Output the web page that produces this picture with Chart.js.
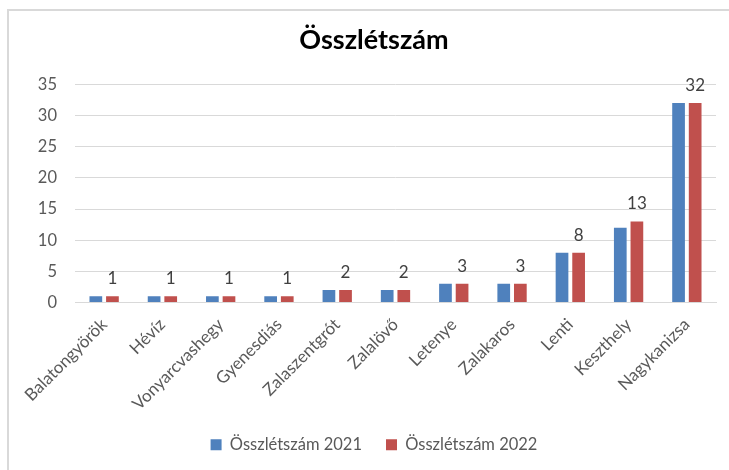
<!DOCTYPE html>
<html>
<head>
<meta charset="utf-8">
<script src="https://cdn.jsdelivr.net/npm/chart.js@4/dist/chart.umd.min.js"></script>
<style>
html,body{margin:0;padding:0;background:#fff;}
#wrap{position:absolute;left:0;top:0;width:729px;height:470px;}
</style>
</head>
<body>
<div id="wrap"><canvas id="c" width="729" height="470"></canvas></div>
<script>
const categories = ["Balatongyörök","Hévíz","Vonyarcvashegy","Gyenesdiás","Zalaszentgrót","Zalalövő","Letenye","Zalakaros","Lenti","Keszthely","Nagykanizsa"];
const series2021 = [1,1,1,1,2,2,3,3,8,12,32];
const series2022 = [1,1,1,1,2,2,3,3,8,13,32];
const seriesNames = ["Összlétszám 2021","Összlétszám 2022"];
const yTicks = [0,5,10,15,20,25,30,35];
const titleText = "Összlétszám";

const FONT = "Lato, 'Open Sans', sans-serif";

const borderPlugin = {
  id: 'outerBorder',
  beforeDraw(chart){
    const ctx = chart.ctx;
    ctx.save();
    ctx.fillStyle = '#fff';
    ctx.fillRect(0,0,chart.width,chart.height);
    ctx.strokeStyle = '#d9d9d9';
    ctx.lineWidth = 2;
    ctx.beginPath();
    ctx.moveTo(8, 470);
    ctx.lineTo(8, 10);
    ctx.lineTo(729, 10);
    ctx.stroke();
    ctx.restore();
  }
};

const labelPlugin = {
  id: 'valueLabels',
  afterDatasetsDraw(chart){
    const ctx = chart.ctx;
    const meta = chart.getDatasetMeta(1);
    ctx.save();
    ctx.font = "17px " + FONT;
    ctx.fillStyle = '#404040';
    ctx.textAlign = 'center';
    ctx.textBaseline = 'bottom';
    meta.data.forEach((bar, i) => {
      ctx.fillText(String(series2022[i]), bar.x, bar.y - 9);
    });
    ctx.restore();
  }
};

new Chart(document.getElementById('c'), {
  type: 'bar',
  data: {
    labels: categories,
    datasets: [
      { label: seriesNames[0], data: series2021, backgroundColor: '#4f81bd', borderWidth: 0,
        categoryPercentage: 0.57, barPercentage: 0.765 },
      { label: seriesNames[1], data: series2022, backgroundColor: '#c0504d', borderWidth: 0,
        categoryPercentage: 0.57, barPercentage: 0.765 }
    ]
  },
  options: {
    responsive: false,
    animation: false,
    devicePixelRatio: 1,
    layout: { padding: { left: 32, right: 13, top: 16, bottom: 7 } },
    plugins: {
      title: { display: true, text: titleText, color: '#000',
        font: { family: FONT, size: 27, weight: 'bold' }, padding: { top: 8, bottom: 28 } },
      legend: { position: 'bottom',
        labels: { color: '#595959', font: { family: FONT, size: 16.5 }, boxWidth: 11, boxHeight: 11, padding: 24 } },
      tooltip: { enabled: false }
    },
    scales: {
      x: {
        grid: { display: false },
        border: { display: true, color: '#d9d9d9', width: 1 },
        ticks: { color: '#595959', font: { family: FONT, size: 17 }, maxRotation: 45, minRotation: 45, padding: 4 },
        afterFit(scale){ scale.height = 110; }
      },
      y: {
        min: 0, max: 35,
        afterBuildTicks(scale){ scale.ticks = yTicks.map(v => ({ value: v })); },
        grid: { color: '#d9d9d9', drawTicks: false },
        border: { display: false },
        ticks: { color: '#595959', font: { family: FONT, size: 16.5 }, padding: 18 },
        afterFit(scale){ scale.width = 43; }
      }
    }
  },
  plugins: [borderPlugin, labelPlugin]
});
</script>
</body>
</html>
